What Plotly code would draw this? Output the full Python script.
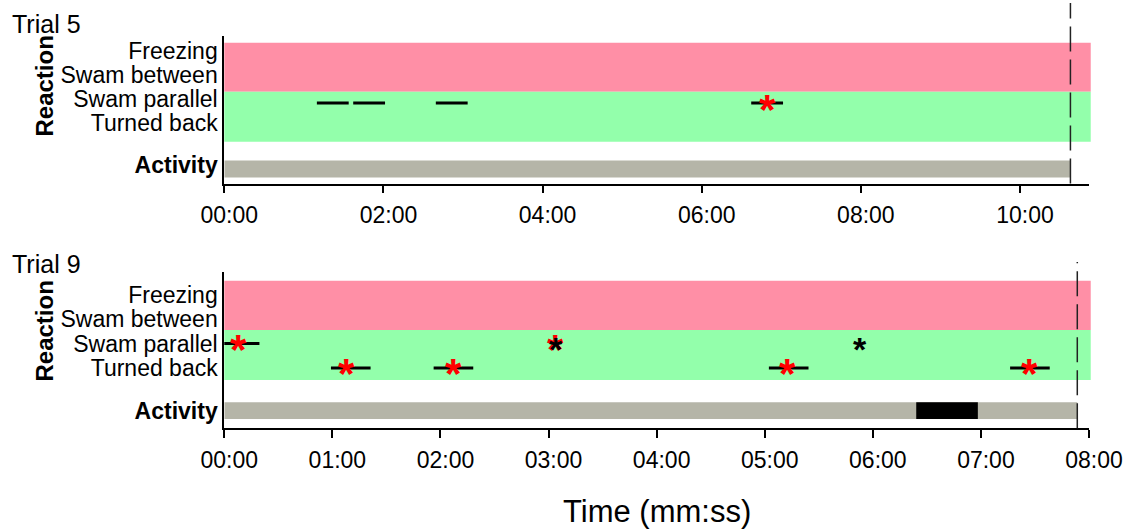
import plotly.graph_objects as go

# ---- data -------------------------------------------------------------
reaction_labels = ["Freezing", "Swam between", "Swam parallel", "Turned back"]
reaction_rows = [4, 3, 2, 1]
activity_label = "Activity"
activity_row = -0.75
SP, TB = 2, 1  # row values for "Swam parallel" / "Turned back"

# Trial 5 (times in seconds)
t5_end = 638
t5_bar_time = [81.8, 109.2, 171.5, 409.3]
t5_bar_row = [SP, SP, SP, SP]
t5_bar_half = [12, 12, 12, 12]
t5_red_time = [409.6]
t5_red_row = [SP]
t5_black_time = []
t5_black_row = []
t5_inactive = []  # (start, end) of inactive periods
t5_ticks = [0, 120, 240, 360, 480, 600]
t5_ticktext = ["00:00", "02:00", "04:00", "06:00", "08:00", "10:00"]
t5_xmax = 652

# Trial 9
t9_end = 473.5
t9_bar_time = [8.5, 70.2, 127.2, 313.3, 447.2]
t9_bar_row = [SP, TB, TB, TB, TB]
t9_bar_half = [11, 11, 11, 11, 11]
t9_red_time = [7.8, 68.0, 127.2, 184.1, 312.4, 446.9]
t9_red_row = [SP, TB, TB, SP, TB, TB]
t9_black_time = [184.1, 352.8]
t9_black_row = [SP, SP]
t9_inactive = [(384.1, 418.3)]
t9_ticks = [0, 60, 120, 180, 240, 300, 360, 420, 480]
t9_ticktext = ["00:00", "01:00", "02:00", "03:00", "04:00", "05:00", "06:00", "07:00", "08:00"]
t9_xmax = 480

# ---- style ------------------------------------------------------------
W, H = 1134, 531
FONT = "Liberation Sans, Arial, sans-serif"
PINK = "#FF8FA6"
GREEN = "#93FFAB"
GREY = "#B5B5A8"

def px_y(p):
    return 1 - p / H

x_dom = [224.3 / W, 1089 / W]

panels = [
    dict(name="Trial 5", end=t5_end, bt=t5_bar_time, br=t5_bar_row, bh=t5_bar_half,
         rt=t5_red_time, rr=t5_red_row, kt=t5_black_time, kr=t5_black_row,
         inact=t5_inactive, ticks=t5_ticks, ticktext=t5_ticktext, xmax=t5_xmax,
         yrange=[-1.354, 4.792], dom=[px_y(183.5), px_y(36)], shift=-4,
         pink=(2.471, 4.5125), green=(0.3875, 2.471), act_h=0.708,
         title_y=24, react_y=86.5, dash_top=3, dash_bot=183.5),
    dict(name="Trial 9", end=t9_end, bt=t9_bar_time, br=t9_bar_row, bh=t9_bar_half,
         rt=t9_red_time, rr=t9_red_row, kt=t9_black_time, kr=t9_black_row,
         inact=t9_inactive, ticks=t9_ticks, ticktext=t9_ticktext, xmax=t9_xmax,
         yrange=[-1.475, 4.943], dom=[px_y(428.3), px_y(271.7)], shift=0,
         pink=(2.553, 4.574), green=(0.504, 2.553), act_h=0.684,
         title_y=264, react_y=331.5, dash_top=262, dash_bot=428.3),
]

fig = go.Figure()
shapes, annotations = [], []
layout = {}

for i, p in enumerate(panels, start=1):
    xa = "x" if i == 1 else f"x{i}"
    ya = "y" if i == 1 else f"y{i}"
    xkey = "xaxis" if i == 1 else f"xaxis{i}"
    ykey = "yaxis" if i == 1 else f"yaxis{i}"

    # background bands for the two reaction groups
    for (y0, y1), col in ((p["pink"], PINK), (p["green"], GREEN)):
        shapes.append(dict(type="rect", xref=f"{xa} domain", yref=ya,
                           x0=0, x1=1.002, y0=y0, y1=y1, fillcolor=col,
                           line=dict(width=0), layer="below"))

    # activity timeline
    fig.add_trace(go.Bar(x=[p["end"]], base=[0], y=[activity_row], width=[p["act_h"]],
                         orientation="h", marker=dict(color=GREY, line=dict(width=0)),
                         xaxis=xa, yaxis=ya, showlegend=False, hoverinfo="skip"))
    for s, e in p["inact"]:
        fig.add_trace(go.Bar(x=[e - s], base=[s], y=[activity_row], width=[p["act_h"]],
                             orientation="h", marker=dict(color="black", line=dict(width=0)),
                             xaxis=xa, yaxis=ya, showlegend=False, hoverinfo="skip"))

    # reaction windows
    fig.add_trace(go.Scatter(
        x=p["bt"], y=p["br"], mode="markers",
        marker=dict(size=1, color="rgba(0,0,0,0)"),
        error_x=dict(type="data", array=p["bh"], visible=True,
                     thickness=3, width=0, color="black"),
        xaxis=xa, yaxis=ya, showlegend=False, hoverinfo="skip", cliponaxis=False))

    # asterisks
    for t, r in zip(p["rt"], p["rr"]):
        annotations.append(dict(x=t, y=r, xref=xa, yref=ya, text="<b>*</b>", showarrow=False,
                                font=dict(family=FONT, size=42, color="#FF0000"),
                                yshift=-6))
    for t, r in zip(p["kt"], p["kr"]):
        annotations.append(dict(x=t, y=r, xref=xa, yref=ya, text="<b>*</b>", showarrow=False,
                                font=dict(family=FONT, size=34, color="black"),
                                yshift=-5))

    # end-of-trial marker
    shapes.append(dict(type="line", xref=xa, yref="paper", x0=p["end"], x1=p["end"],
                       y0=px_y(p["dash_bot"]), y1=px_y(p["dash_top"]),
                       line=dict(color="#222222", width=1.5, dash="25px,8px")))

    layout[xkey] = dict(domain=x_dom, range=[0, p["xmax"]], anchor=ya, automargin=False,
                        tickmode="array", tickvals=p["ticks"], ticktext=p["ticktext"],
                        ticks="outside", ticklen=8, tickwidth=1.5, tickcolor="black",
                        showline=True, linewidth=1.5, linecolor="black",
                        showgrid=False, zeroline=False, ticklabelstandoff=2,
                        ticklabelshift=5,
                        tickfont=dict(family=FONT, size=23, color="black"))
    layout[ykey] = dict(domain=p["dom"], range=p["yrange"], anchor=xa, automargin=False,
                        tickmode="array", tickvals=reaction_rows + [activity_row],
                        ticktext=reaction_labels + [f"<b>{activity_label}</b>"],
                        ticks="", showline=True, linewidth=2, linecolor="black",
                        showgrid=False, zeroline=False, ticklabelstandoff=0,
                        ticklabelshift=p["shift"],
                        tickfont=dict(family=FONT, size=23, color="black"))

    annotations.append(dict(x=10 / W, y=px_y(p["title_y"]), xref="paper", yref="paper",
                            text=p["name"], showarrow=False, xanchor="left", yanchor="middle",
                            font=dict(family=FONT, size=25, color="black")))
    annotations.append(dict(x=44 / W, y=px_y(p["react_y"]), xref="paper", yref="paper",
                            text="<b>Reaction</b>", showarrow=False, textangle=-90,
                            xanchor="center", yanchor="middle",
                            font=dict(family=FONT, size=24, color="black")))

annotations.append(dict(x=(224.3 + 1089) / 2 / W, y=0, xref="paper", yref="paper",
                        text="Time (mm:ss)", showarrow=False, xanchor="center", yanchor="bottom",
                        font=dict(family=FONT, size=31, color="black")))

fig.update_layout(
    template="none",
    width=W, height=H, margin=dict(l=0, r=0, t=0, b=0, pad=0),
    paper_bgcolor="white", plot_bgcolor="rgba(0,0,0,0)",
    barmode="overlay", showlegend=False,
    shapes=shapes, annotations=annotations, **layout,
)

fig.write_html("out.html")
